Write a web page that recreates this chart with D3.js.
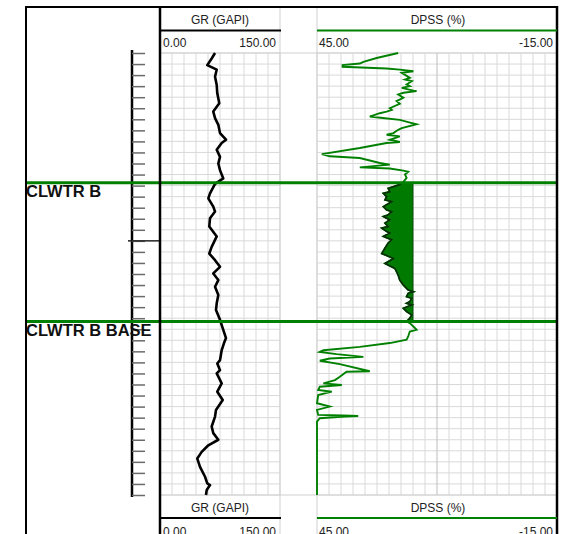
<!DOCTYPE html>
<html lang="en">
<head>
<meta charset="utf-8">
<title>Well log</title>
<script src="https://d3js.org/d3.v7.min.js"></script>
<style>
    body { margin: 0; background: #fff; }
    svg#main_g { font-family: "Liberation Sans", Arial, sans-serif; }
</style>
</head>
<body>
<svg id="main_g" width="570" height="534"></svg>
<script type="text/javascript">
// depth in ft, one grid line every 2 ft
const depthRange = [4966, 5046];
const majorDepths = [5000];

const grDepth = [4966.0,4967.0,4968.2,4969.0,4970.3,4971.8,4973.3,4975.1,4976.6,4977.8,4979.0,4980.5,4981.7,4982.3,4983.5,4984.8,4986.0,4987.2,4988.7,4989.7,4991.4,4992.3,4993.8,4994.7,4995.9,4997.4,4999.2,5001.1,5002.3,5003.5,5004.7,5005.9,5007.1,5008.3,5009.8,5011.3,5012.5,5014.3,5016.1,5017.6,5018.5,5019.8,5021.6,5022.2,5023.4,5024.0,5025.8,5027.3,5028.8,5030.6,5031.8,5033.6,5034.8,5036.0,5037.0,5038.2,5039.4,5040.9,5042.7,5043.9,5044.2,5045.1,5046.0];
const grValue = [68.8,64.6,59.1,70.9,68.8,70.9,71.6,74.1,66.6,68.8,72.9,75.0,82.5,77.1,70.9,75.0,72.9,75.0,79.1,68.8,62.5,60.4,66.6,68.8,62.5,61.6,70.9,64.6,61.6,68.8,75.0,66.6,72.9,68.8,72.9,70.9,70.0,75.0,79.1,82.5,80.0,77.1,75.0,71.6,75.0,70.9,77.1,71.6,78.4,70.0,68.8,64.6,66.6,72.9,60.4,52.1,46.6,50.0,56.3,59.1,62.5,58.4,57.5];

const dpssDepth = [4966.0,4966.9,4967.6,4967.9,4968.2,4968.5,4968.8,4969.0,4969.3,4969.6,4970.5,4970.8,4971.1,4971.7,4972.0,4972.3,4972.8,4972.9,4973.2,4973.5,
    4974.1,4974.7,4975.2,4976.0,4976.3,4976.6,4976.9,4977.5,4977.8,4978.1,4978.5,4978.9,4979.6,4979.9,4980.5,4980.8,4981.1,4981.7,4982.1,4982.3,
    4983.2,4984.3,4984.7,4985.0,4985.9,4986.2,4986.7,4986.9,4987.3,4987.5,4988.0,4988.6,4989.3,4989.8,4990.2,4990.5,4991.1,4991.4,4992.0,4992.6,
    4992.9,4993.8,4994.4,4994.7,4995.3,4995.6,4996.2,4996.8,4997.4,4997.7,4998.3,4998.6,4999.2,4999.8,5000.4,5001.3,5002.3,5002.9,5003.2,5004.1,
    5004.7,5005.0,5005.6,5006.2,5007.1,5008.0,5008.9,5009.2,5009.5,5010.1,5010.4,5011.0,5011.3,5011.6,5012.2,5012.8,5013.4,5014.0,5014.6,5014.9,
    5015.5,5016.1,5016.4,5017.3,5017.9,5018.5,5019.2,5019.8,5020.1,5020.5,5021.0,5021.3,5021.7,5022.3,5023.6,5023.7,5024.6,5025.2,5025.8,5026.1,
    5026.4,5027.0,5027.3,5027.9,5029.4,5030.0,5030.6,5031.5,5031.6,5031.7,5031.8,5032.1,5032.7,5046.0];
const dpssValue = [24.7,30.1,33.4,34.3,38.6,38.6,27.6,24.3,20.9,23.8,21.8,23.0,21.3,22.6,21.8,23.8,20.9,20.1,23.4,24.7,
    23.4,25.1,24.3,26.8,26.3,27.6,29.3,31.8,28.0,24.3,22.2,20.1,23.8,24.7,25.9,27.6,24.3,26.8,24.3,27.6,
    34.3,43.8,41.8,34.3,29.3,26.8,34.3,26.8,23.4,22.2,23.0,22.6,23.4,24.3,25.9,27.2,26.8,28.4,27.6,28.0,
    26.3,28.4,27.6,26.3,27.2,28.4,26.8,28.0,27.2,28.8,27.6,26.8,28.4,26.3,27.2,28.0,28.8,26.8,25.9,28.0,
    26.3,25.5,25.1,24.7,24.3,23.4,22.2,20.9,22.2,22.6,21.3,21.8,22.6,21.3,23.4,22.6,21.3,21.8,22.6,21.8,
    20.9,20.1,21.8,22.2,22.6,26.8,34.3,43.4,44.3,40.1,33.4,41.8,44.3,39.3,31.8,37.6,39.3,40.5,43.4,38.8,
    44.3,44.7,41.3,44.7,45.0,41.8,45.0,44.7,38.4,34.7,38.0,44.3,45.0,45.0];

const topNames = ["CLWTR B", "CLWTR B BASE"];
const topDepths = [4989.5, 5014.6];
const dpssCutoff = 21;

const trackTitles = ["GR (GAPI)", "DPSS (%)"];
const grScaleLabels = ["0.00", "150.00"];
const dpssScaleLabels = ["45.00", "-15.00"];

var svg = d3.select('#main_g');
const green = "#008000";

let y = d3.scaleLinear().domain(depthRange).range([53, 495]);
let grX = d3.scaleLinear().domain([0, 150]).range([160, 280]);
let dpssX = d3.scaleLinear().domain([45, -15]).range([317, 557]);

let gridDepths = d3.range(depthRange[0], depthRange[1] + 1, 2);

// grid
let grid = svg.append("g").attr("id", "grid");
[[grX, d3.range(0, 151, 15)], [dpssX, d3.range(45, -16, -3)]].forEach(function(t, ti){
    let sc = t[0], r = sc.range();
    grid.selectAll(null).data(gridDepths).enter().append("line")
        .attr("x1", r[0]).attr("x2", r[1])
        .attr("y1", d => y(d)).attr("y2", d => y(d))
        .attr("stroke", "#d9d9d9").attr("stroke-width", 1);
    grid.selectAll(null).data(t[1]).enter().append("line")
        .attr("x1", d => sc(d)).attr("x2", d => sc(d))
        .attr("y1", y.range()[0]).attr("y2", y.range()[1])
        .attr("stroke", (d, i) => (ti == 1 && i == 10) ? "#bdbdbd" : "#d9d9d9")
        .attr("stroke-width", 1);
});

// gap column separators and grid frame
svg.append("g").selectAll("line").data([280, 317]).enter().append("line")
    .attr("x1", d => d).attr("x2", d => d).attr("y1", 7).attr("y2", 534)
    .attr("stroke", "#cfcfcf").attr("stroke-width", 1);
svg.append("g").selectAll("line").data(y.range()).enter().append("line")
    .attr("x1", 160).attr("x2", 557).attr("y1", d => d).attr("y2", d => d)
    .attr("stroke", "#cfcfcf").attr("stroke-width", 1.2);

// depth track
let depthAxis = d3.axisRight(y).tickValues(gridDepths).tickSize(13).tickSizeOuter(0).tickFormat("");
let depthG = svg.append("g").attr("id", "depth_axis").attr("transform", "translate(132,0)").call(depthAxis);
depthG.select(".domain").attr("stroke", "#000").attr("stroke-width", 2.5).attr("d", "M0,50V497");
depthG.selectAll(".tick line").attr("stroke", "#6a6a6a").attr("stroke-width", 1.5);
svg.append("g").selectAll("line").data(majorDepths).enter().append("line")
    .attr("x1", 128).attr("x2", 160).attr("y1", d => y(d)).attr("y2", d => y(d))
    .attr("stroke", "#222").attr("stroke-width", 1.5);

// curves
let grPts = d3.zip(grDepth, grValue);
let dpssPts = d3.zip(dpssDepth, dpssValue);

svg.append("path").datum(grPts)
    .attr("d", d3.line().x(d => grX(d[1])).y(d => y(d[0])))
    .attr("fill", "none").attr("stroke", "#000").attr("stroke-width", 2.6).attr("stroke-linejoin", "round");

svg.append("path").datum(dpssPts)
    .attr("d", d3.line().x(d => dpssX(d[1])).y(d => y(d[0])))
    .attr("fill", "none").attr("stroke", green).attr("stroke-width", 1.9);

// porosity shading between the two tops
let interp = d3.scaleLinear().domain(dpssDepth).range(dpssValue);
let zone = [[topDepths[0], interp(topDepths[0])]]
    .concat(dpssPts.filter(d => d[0] > topDepths[0] && d[0] < topDepths[1]))
    .concat([[topDepths[1], interp(topDepths[1])]]);

svg.append("path").datum(zone)
    .attr("d", d3.area().y(d => y(d[0])).x0(d => dpssX(Math.max(d[1], dpssCutoff))).x1(dpssX(dpssCutoff)))
    .attr("fill", "#007a00").attr("stroke", "#0a4a0a").attr("stroke-width", 1);
svg.append("path").datum(zone)
    .attr("d", d3.line().x(d => dpssX(d[1])).y(d => y(d[0])))
    .attr("fill", "none").attr("stroke", "#0c2a0c").attr("stroke-width", 1.5);

// formation tops
let tops = svg.append("g").attr("id", "tops");
tops.selectAll("line").data(topDepths).enter().append("line")
    .attr("x1", 25).attr("x2", 557).attr("y1", d => y(d)).attr("y2", d => y(d))
    .attr("stroke", green).attr("stroke-width", 3);
tops.selectAll("text").data(topNames).enter().append("text")
    .attr("x", 26).attr("y", (d, i) => y(topDepths[i]) + 14.5)
    .attr("font-size", "16.5px").attr("font-weight", "bold").attr("fill", "#111")
    .text(d => d);

// borders
let borders = svg.append("g").attr("stroke", "#000");
borders.append("line").attr("x1", 25).attr("x2", 558).attr("y1", 7).attr("y2", 7).attr("stroke-width", 2);
borders.selectAll(null).data([[26, 2], [160, 2.5], [557, 2.5]]).enter().append("line")
    .attr("x1", d => d[0]).attr("x2", d => d[0]).attr("y1", 6).attr("y2", 534)
    .attr("stroke-width", d => d[1]);

// track headers, top and bottom
function header(yTitle, yLine, yScale){
    let h = svg.append("g").attr("font-size", "12px").attr("fill", "#222");
    h.append("text").attr("x", (grX.range()[0] + grX.range()[1]) / 2).attr("y", yTitle)
        .attr("text-anchor", "middle").text(trackTitles[0]);
    h.append("text").attr("x", (dpssX.range()[0] + dpssX.range()[1]) / 2 + 1).attr("y", yTitle)
        .attr("text-anchor", "middle").text(trackTitles[1]);
    h.append("line").attr("x1", 160).attr("x2", 281).attr("y1", yLine).attr("y2", yLine)
        .attr("stroke", "#000").attr("stroke-width", 2);
    h.append("line").attr("x1", 317).attr("x2", 557).attr("y1", yLine).attr("y2", yLine)
        .attr("stroke", green).attr("stroke-width", 2);
    h.append("text").attr("x", 163).attr("y", yScale).text(grScaleLabels[0]);
    h.append("text").attr("x", 276).attr("y", yScale).attr("text-anchor", "end").text(grScaleLabels[1]);
    h.append("text").attr("x", 319).attr("y", yScale).text(dpssScaleLabels[0]);
    h.append("text").attr("x", 553).attr("y", yScale).attr("text-anchor", "end").text(dpssScaleLabels[1]);
}
header(24, 30.5, 47);
// the bottom scale row sits partly below the window edge, as in the original
header(512, 518, 535.5);
</script>
</body>
</html>
